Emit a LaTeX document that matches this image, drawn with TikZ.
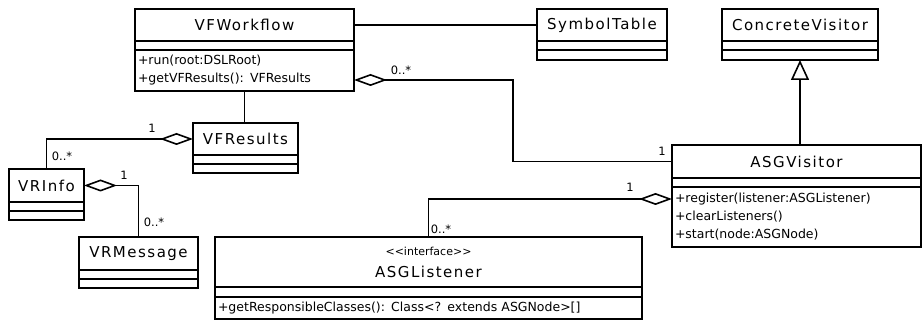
\documentclass[tikz,border=0pt]{standalone}
\usepackage{fontspec}
\setmainfont{DejaVu Sans}
\newfontfamily\namefont[LetterSpace=10]{DejaVu Sans}
\usetikzlibrary{positioning,arrows.meta}

\begin{document}
\begin{tikzpicture}[x=1pt,y=-1pt,
        clase/.style={draw, line width=1.6pt, outer sep=0pt, inner sep=0pt,
            font=\namefont\fontsize{15}{18}\selectfont},
        compart/.style={draw, line width=1.6pt, outer sep=0pt, inner sep=0pt, minimum height=9pt},
        metodos/.style={compart, align=left, inner xsep=3pt, font=\fontsize{12.5}{18}\selectfont},
        mult/.style={inner sep=0pt, font=\fontsize{11.5}{12}\selectfont},
        agreg/.style={{Diamond[open,length=33pt,width=12pt]}-, line width=1.6pt},
        generaliz/.style={{Triangle[open,length=20pt,width=18pt]}-, line width=1.6pt},
        asoc/.style={line width=1.6pt}]
        \useasboundingbox (0,0) rectangle (923,320);

        % Clase VFWorkflow
        \node[clase, minimum width=219pt, minimum height=32pt] (wf) at (244.5,25) {VFWorkflow};
        \node[compart, minimum width=219pt, below=0pt of wf] (wfatr) {};
        \node[metodos, text width=213pt, minimum height=41pt, below=0pt of wfatr] (wfops)
            {+run(root:DSLRoot)\\+getVFResults(): VFResults};

        % Clase SymbolTable
        \node[clase, minimum width=130pt, minimum height=32pt] (st) at (602,25) {SymbolTable};
        \node[compart, minimum width=130pt, below=0pt of st] (statr) {};
        \node[compart, minimum width=130pt, minimum height=10pt, below=0pt of statr] (stops) {};

        % Clase ConcreteVisitor
        \node[clase, minimum width=156pt, minimum height=32pt] (cv) at (800,25) {ConcreteVisitor};
        \node[compart, minimum width=156pt, below=0pt of cv] (cvatr) {};
        \node[compart, minimum width=156pt, minimum height=10pt, below=0pt of cvatr] (cvops) {};

        % Clase VFResults
        \node[clase, minimum width=105pt, minimum height=32pt] (vfr) at (245.5,139) {VFResults};
        \node[compart, minimum width=105pt, below=0pt of vfr] (vfratr) {};
        \node[compart, minimum width=105pt, below=0pt of vfratr] (vfrops) {};

        % Clase VRInfo
        \node[clase, minimum width=75pt, minimum height=33pt] (vri) at (46.5,185.5) {VRInfo};
        \node[compart, minimum width=75pt, below=0pt of vri] (vriatr) {};
        \node[compart, minimum width=75pt, below=0pt of vriatr] (vriops) {};

        % Clase VRMessage
        \node[clase, minimum width=119pt, minimum height=33pt] (vrm) at (138.5,253.5) {VRMessage};
        \node[compart, minimum width=119pt, below=0pt of vrm] (vrmatr) {};
        \node[compart, minimum width=119pt, below=0pt of vrmatr] (vrmops) {};

        % Clase ASGVisitor
        \node[clase, minimum width=249pt, minimum height=33pt] (av) at (796.5,161.5) {ASGVisitor};
        \node[compart, minimum width=249pt, below=0pt of av] (avatr) {};
        \node[metodos, text width=243pt, minimum height=60pt, below=0pt of avatr] (avops)
            {+register(listener:ASGListener)\\+clearListeners()\\+start(node:ASGNode)};

        % Interfaz ASGListener
        \node[clase, minimum width=427pt, minimum height=50pt, align=center] (al) at (428.5,262)
            {{\normalfont\fontsize{11}{12}\selectfont <{}<interface>{}>}\\[4pt]ASGListener};
        \node[compart, minimum width=427pt, minimum height=10pt, below=0pt of al] (alatr) {};
        \node[metodos, text width=421pt, minimum height=22pt, below=0pt of alatr] (alops)
            {+getResponsibleClasses(): Class<? extends ASGNode>[]};

        % Relaciones
        \draw[asoc] (wf.east) -- (st.west);
        \draw[asoc] (wfops.south) -- (wfops.south |- vfr.north);
        \draw[generaliz] (cvops.south) -- (cvops.south |- av.north);
        \draw[agreg] ([yshift=-30pt]wfops.north east) -- ++(159,0) |- (av.west);
        \draw[agreg] (vfr.west) -| (vri.north);
        \draw[agreg] (vri.east) -| (vrm.north);
        \draw[agreg] ([yshift=-12pt]avops.north west) -| (al.north);

        % Multiplicidades
        \node[mult] (m1) at (401,70) {0..*};
        \node[mult] (m2) at (662,151) {1};
        \node[mult] (m3) at (152,128) {1};
        \node[mult] (m4) at (62,156) {0..*};
        \node[mult] (m5) at (124,175) {1};
        \node[mult] (m6) at (154,222) {0..*};
        \node[mult] (m7) at (630,187) {1};
        \node[mult] (m8) at (441,229) {0..*};

    \end{tikzpicture}
\end{document}
